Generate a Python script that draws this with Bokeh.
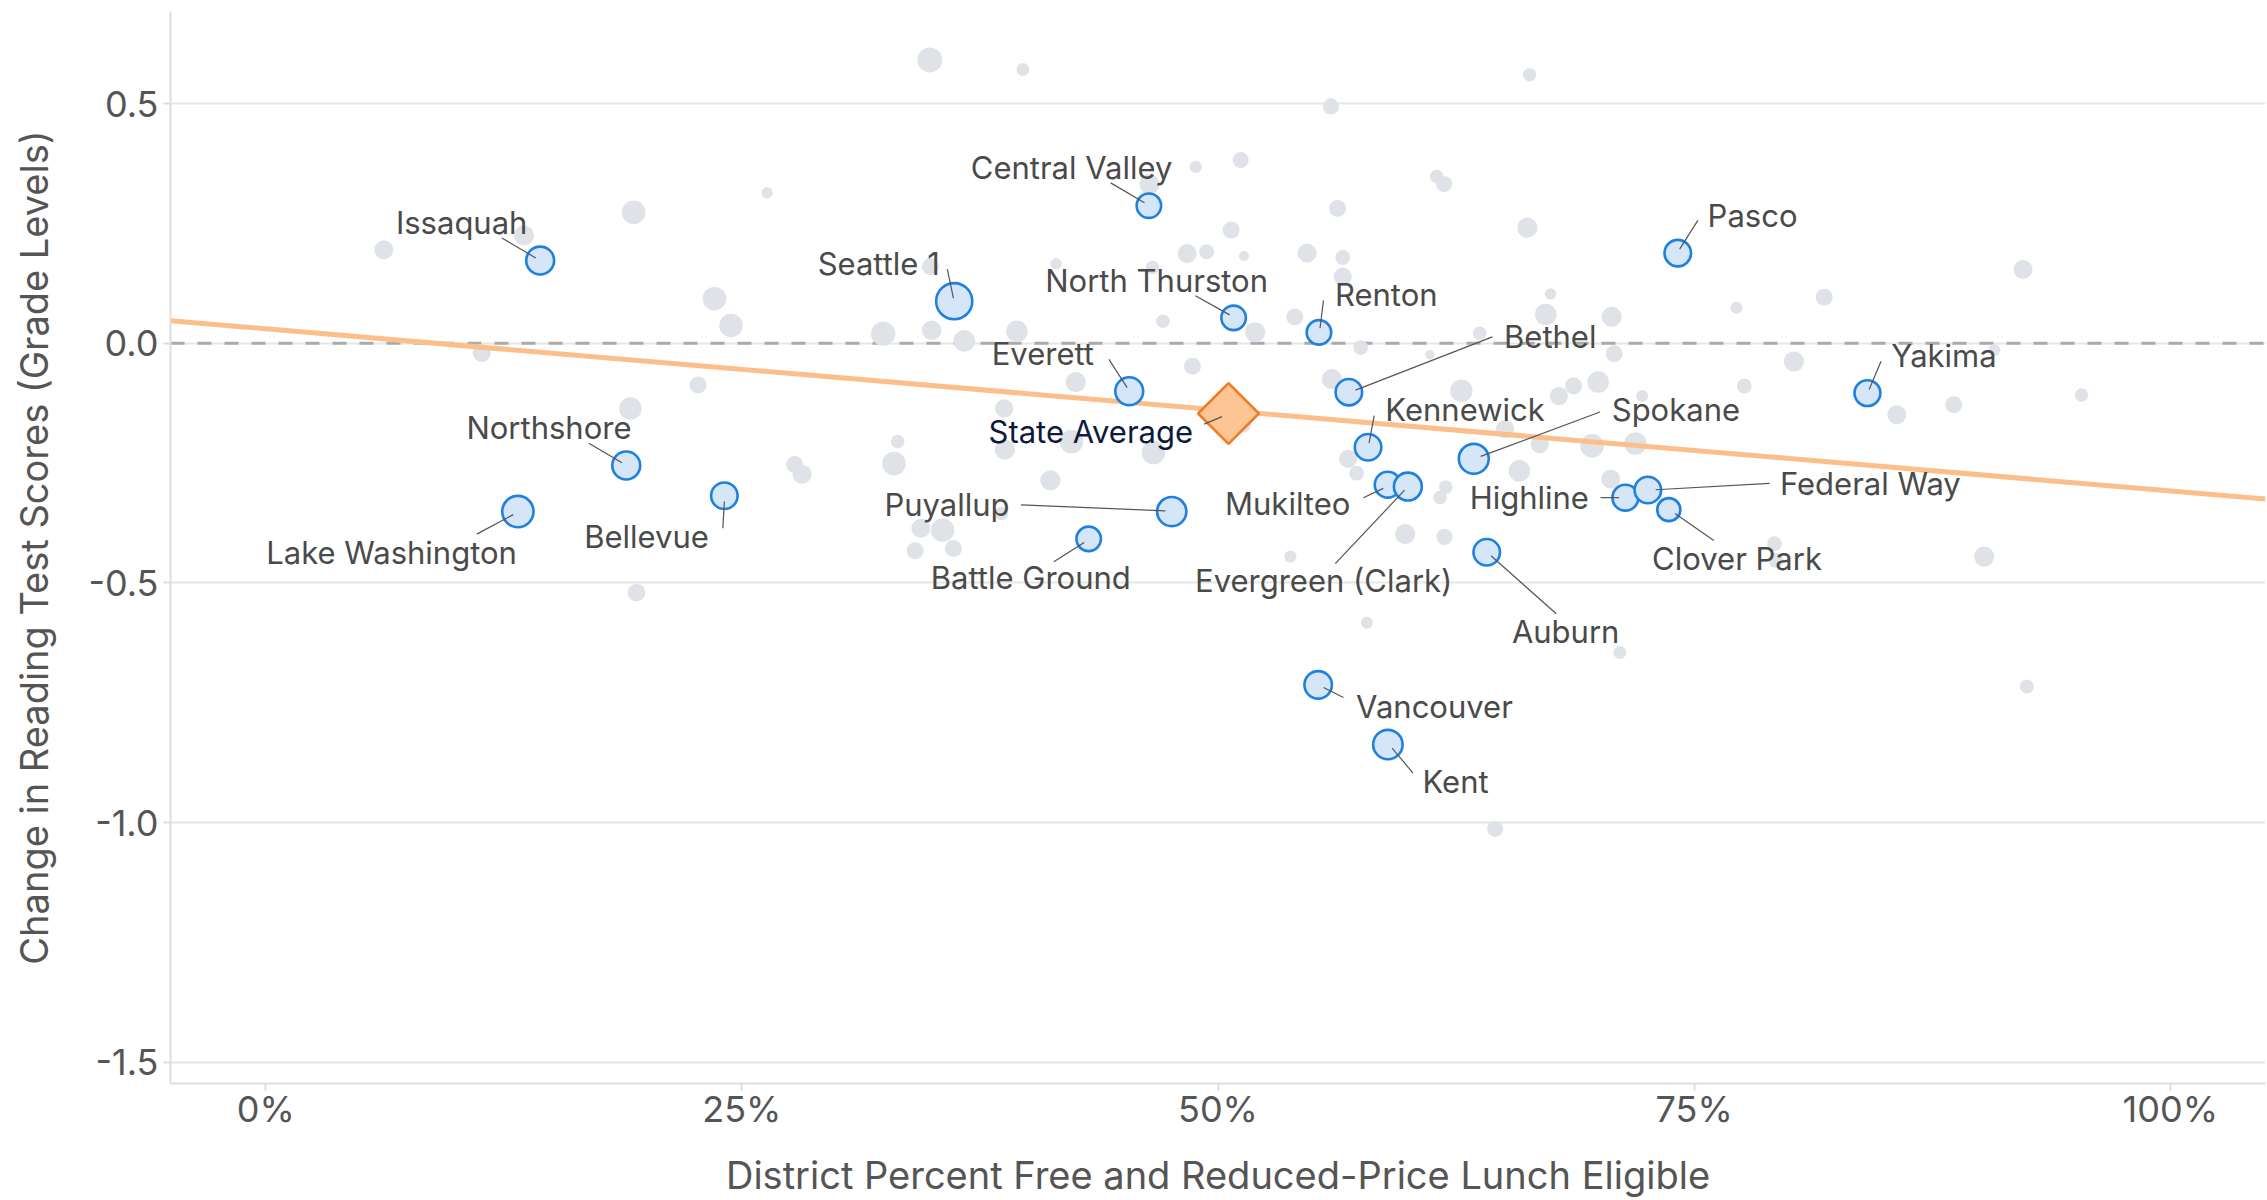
import numpy as np
from bokeh.plotting import figure
from bokeh.models import Range1d, FixedTicker, PrintfTickFormatter, Span
from bokeh.embed import file_html
from bokeh.resources import INLINE
from bokeh.core.properties import value

# ---------------- DATA ----------------
# Other districts: % free/reduced lunch, change in reading scores, est. enrollment (thousands)
other_frl = [6.2, 13.56, 19.32, 11.34, 22.7, 19.15, 19.47, 34.87, 39.76, 26.33,
             48.83, 46.40, 48.38, 49.4, 41.5, 46.56, 34.9, 23.56, 24.43, 32.42,
             34.97, 36.68, 39.44, 47.11, 48.66, 42.53, 38.77, 33.18, 32.99, 27.77,
             28.16, 42.31, 38.81, 46.61, 41.2, 38.63, 34.40, 35.54, 34.1, 36.11,
             51.3, 66.36, 55.93, 51.19, 61.48, 61.87, 56.28, 66.24, 50.69, 54.68,
             51.36, 56.55, 56.55, 67.46, 77.22, 54.03, 67.21, 70.67, 51.95, 63.74,
             57.49, 61.13, 70.8, 55.98, 62.78, 68.67, 69.96, 67.9, 72.27, 77.63,
             65.07, 66.89, 69.64, 71.92, 56.83, 57.28, 65.83, 70.62, 61.96, 61.66,
             59.83, 61.89, 53.8, 57.82, 71.1, 92.47, 64.55, 92.27, 81.83, 80.24,
             90.76, 85.64, 88.63, 95.34, 79.22, 79.3, 90.23, 81.0]
other_change = [0.195, 0.225, 0.273, -0.020, -0.087, -0.136, -0.52, 0.591, 0.571, 0.314,
                0.368, 0.332, 0.187, 0.191, 0.166, 0.158, 0.160, 0.093, 0.037, 0.020,
                0.027, 0.005, 0.025, 0.046, -0.048, -0.081, -0.136, -0.205, -0.251, -0.253,
                -0.273, -0.205, -0.222, -0.228, -0.286, -0.355, -0.386, -0.390, -0.433, -0.428,
                -0.17, 0.560, 0.494, 0.382, 0.348, 0.332, 0.281, 0.241, 0.236, 0.188,
                0.182, 0.179, 0.139, 0.103, 0.074, 0.055, 0.060, 0.055, 0.023, 0.021,
                -0.009, -0.024, -0.022, -0.075, -0.099, -0.089, -0.081, -0.110, -0.110, -0.089,
                -0.179, -0.210, -0.214, -0.209, -0.241, -0.271, -0.266, -0.283, -0.300, -0.322,
                -0.398, -0.404, -0.445, -0.583, -0.645, -0.716, -1.013, 0.154, 0.096, -0.038,
                -0.014, -0.149, -0.128, -0.108, -0.418, -0.453, -0.445, -0.308]
other_enroll = [13.4, 14.8, 20.6, 12.3, 10.7, 18.6, 11.5, 23.1, 6.1, 4.8,
                5.5, 15.1, 13.4, 8.1, 4.8, 6.8, 10.7, 20.6, 20.6, 22.0,
                14.2, 17.3, 17.3, 6.8, 10.7, 15.1, 12.3, 6.8, 20.6, 10.7,
                13.4, 20.6, 15.1, 20.6, 15.1, 6.8, 13.4, 20.6, 10.7, 10.7,
                9.5, 6.8, 9.7, 9.7, 6.8, 9.7, 10.7, 15.1, 10.7, 13.4,
                3.8, 8.1, 12.3, 4.8, 5.5, 10.7, 17.3, 15.1, 15.1, 6.8,
                8.1, 3.3, 10.7, 15.1, 18.6, 10.7, 17.3, 12.3, 5.5, 8.1,
                12.3, 12.3, 20.6, 18.6, 12.3, 8.1, 17.3, 13.4, 6.8, 6.8,
                15.1, 9.7, 5.5, 5.3, 6.3, 7.2, 9.5, 13.4, 10.7, 15.1,
                5.3, 13.4, 10.7, 6.8, 8.1, 8.1, 15.1, 3.7]

# Highlighted districts
dist_names = ["Issaquah", "Northshore", "Lake Washington", "Bellevue", "Seattle 1",
              "Central Valley", "North Thurston", "Everett", "Puyallup", "Battle Ground",
              "Renton", "Bethel", "Kennewick", "Mukilteo", "Evergreen (Clark)",
              "Spokane", "Auburn", "Pasco", "Highline", "Federal Way",
              "Clover Park", "Yakima", "Vancouver", "Kent"]
dist_frl = [14.41, 18.93, 13.24, 24.08, 36.15,
            46.37, 50.82, 45.34, 47.57, 43.21,
            55.3, 56.87, 57.88, 58.91, 59.97,
            63.43, 64.11, 74.14, 71.39, 72.57,
            73.67, 84.1, 55.26, 58.92]
dist_change = [0.1725, -0.255, -0.351, -0.318, 0.0877,
               0.287, 0.053, -0.100, -0.351, -0.408,
               0.0227, -0.102, -0.217, -0.295, -0.299,
               -0.241, -0.436, 0.188, -0.322, -0.306,
               -0.347, -0.104, -0.7125, -0.837]
dist_enroll = [28.8, 28.8, 36.2, 26.0, 48.2,
               22.2, 22.2, 28.8, 31.7, 22.2,
               22.2, 26.0, 26.0, 24.8, 28.8,
               33.1, 26.0, 26.0, 24.8, 26.0,
               19.7, 24.8, 28.0, 32.2]

state_avg_frl = [50.55]
state_avg_change = [-0.1465]
state_label = "State Average"

trend_frl = [-5, 105]
trend_change = [0.047, -0.325]

x_ticks = [0, 25, 50, 75, 100]
y_ticks = [-1.5, -1.0, -0.5, 0.0, 0.5]

# ---------------- LAYOUT (label placement in screen px relative to point) ----------------
# name: (label dx, label dy (baseline), leader start dx, dy, leader end dx, dy)
label_layout = {
    "Issaquah": (-78.5, -27.2, -38.2, -22.5, -4.4, -2.6),
    "Northshore": (-77.3, -27.2, -37.4, -22.3, -4.3, -2.7),
    "Lake Washington": (-126.3, 52.0, -41.2, 22.6, -4.7, 3.1),
    "Bellevue": (-77.8, 51.7, -1.5, 32.5, 0.0, 5.7),
    "Seattle 1": (-75.5, -26.4, -6.9, -32.0, -0.8, -3.0),
    "Central Valley": (-77.3, -27.7, -38.2, -22.8, -4.4, -2.9),
    "North Thurston": (-77.0, -26.7, -38.2, -22.2, -4.0, -3.0),
    "Everett": (-86.4, -26.9, -20.3, -31.8, -2.1, -3.6),
    "Puyallup": (-224.7, 3.8, -150.7, -6.7, -6.4, -0.7),
    "Battle Ground": (-57.9, 49.9, -34.9, 22.8, -4.5, 3.6),
    "Renton": (67.3, -26.7, 4.5, -32.0, 1.1, -4.1),
    "Bethel": (201.4, -45.2, 143.6, -55.4, 6.7, -2.0),
    "Kennewick": (97.0, -27.1, 6.1, -31.6, 1.0, -4.1),
    "Mukilteo": (-100.0, 30.1, -24.3, 13.1, -4.4, 3.7),
    "Evergreen (Clark)": (-84.2, 104.8, -72.6, 77.0, -3.3, 3.6),
    "Spokane": (202.1, -38.6, 126.2, -46.8, 6.9, -2.4),
    "Auburn": (78.9, 90.6, 69.5, 61.5, 4.3, 3.5),
    "Pasco": (74.8, -27.0, 20.1, -32.8, 1.9, -4.0),
    "Highline": (-96.1, 11.0, -24.8, 0.0, -6.2, 0.0),
    "Federal Way": (222.5, 4.7, 121.6, -6.6, 7.8, -0.2),
    "Clover Park": (68.2, 59.6, 45.0, 30.9, 6.2, 3.8),
    "Yakima": (76.5, -26.9, 13.6, -31.8, 1.7, -3.6),
    "Vancouver": (116.3, 32.9, 25.2, 12.7, 5.4, 2.7),
    "Kent": (67.7, 47.6, 25.1, 28.5, 4.2, 3.5),
}
state_layout = (-137.7, 28.7, -24.3, 10.6, -6.4, 3.1)
LABEL_SHIFT = -11.0  # baseline correction for the renderer

# ---------------- FIGURE ----------------
W, H = 2267, 1200
BL, BR, BT, BB = 170, 2, 11, 116
X0, X1 = -5, 105
Y0, Y1 = -1.544, 0.692
PXX = (W - BL - BR) / (X1 - X0)
PXY = (H - BT - BB) / (Y1 - Y0)

p = figure(width=W, height=H, x_range=Range1d(X0, X1), y_range=Range1d(Y0, Y1),
           output_backend="svg", toolbar_location=None,
           min_border_left=BL, min_border_right=BR, min_border_top=BT, min_border_bottom=BB)
p.outline_line_color = None
p.background_fill_color = "white"
p.border_fill_color = "white"

FONT = "Inter"
p.xaxis.ticker = FixedTicker(ticks=x_ticks)
p.xaxis.formatter = PrintfTickFormatter(format="%d%%")
p.yaxis.ticker = FixedTicker(ticks=y_ticks)
p.yaxis.formatter = PrintfTickFormatter(format="%.1f")
p.xaxis.axis_label = "District Percent Free and Reduced-Price Lunch Eligible"
p.yaxis.axis_label = "Change in Reading Test Scores (Grade Levels)"
for ax in (p.xaxis[0], p.yaxis[0]):
    ax.axis_line_color = "#dddddd"
    ax.axis_line_width = 2
    ax.major_tick_line_color = "#dddddd"
    ax.major_tick_line_width = 2
    ax.major_tick_in = 0
    ax.major_tick_out = 7
    ax.minor_tick_line_color = None
    ax.major_label_text_font = FONT
    ax.major_label_text_font_size = "36px"
    ax.major_label_text_color = "#555555"
    ax.axis_label_text_font = FONT
    ax.axis_label_text_font_size = "38px"
    ax.axis_label_text_font_style = "normal"
    ax.axis_label_text_color = "#555555"
p.xaxis.major_label_standoff = -4
p.yaxis.major_label_standoff = 5
p.xaxis.axis_label_standoff = 18
p.yaxis.axis_label_standoff = 28

p.xgrid.grid_line_color = None
p.ygrid.grid_line_color = "#e6e6e6"
p.ygrid.grid_line_width = 2

zero = Span(location=0, dimension="width", line_color="#aaaaaa", line_width=3,
            line_dash="14 13", level="underlay")
p.add_layout(zero)

# gray districts
other_size = [5.2 * np.sqrt(e) for e in other_enroll]
p.scatter(other_frl, other_change, size=other_size, fill_color="#dfe3e8",
          line_color=None, marker="circle")

# trend line
p.line(trend_frl, trend_change, line_color="#fcbf8c", line_width=5)

# highlighted districts
dist_size = [5.2 * np.sqrt(e) for e in dist_enroll]
p.scatter(dist_frl, dist_change, size=dist_size, fill_color="#d4e6f8",
          line_color="#1f80e0", line_width=2.6, marker="circle")

# state average
p.scatter(state_avg_frl, state_avg_change, marker="square", angle=np.pi / 4, size=43,
          fill_color="#fdc494", line_color="#f07b25", line_width=2.5)

# leaders and labels
lx, ly, lt = [], [], []
sx0, sy0, sx1, sy1 = [], [], [], []
for name, fx, cy in zip(dist_names, dist_frl, dist_change):
    dx, dy, ax_, ay_, bx_, by_ = label_layout[name]
    lx.append(fx + dx / PXX); ly.append(cy - (dy + LABEL_SHIFT) / PXY); lt.append(name)
    sx0.append(fx + ax_ / PXX); sy0.append(cy - ay_ / PXY)
    sx1.append(fx + bx_ / PXX); sy1.append(cy - by_ / PXY)
dx, dy, ax_, ay_, bx_, by_ = state_layout
sx0.append(state_avg_frl[0] + ax_ / PXX); sy0.append(state_avg_change[0] - ay_ / PXY)
sx1.append(state_avg_frl[0] + bx_ / PXX); sy1.append(state_avg_change[0] - by_ / PXY)

p.segment(sx0, sy0, sx1, sy1, line_color="#555555", line_width=1.2)
p.text(lx, ly, text=lt, text_font=value(FONT), text_font_size=value("31px"),
       text_color="#4a4a4a", text_align="center", text_baseline="alphabetic")
p.text([state_avg_frl[0] + dx / PXX], [state_avg_change[0] - (dy + LABEL_SHIFT) / PXY],
       text=[state_label], text_font=value(FONT), text_font_size=value("31px"),
       text_color="#0d1a3c", text_align="center", text_baseline="alphabetic")

open("out.html", "w").write(file_html(p, INLINE))
